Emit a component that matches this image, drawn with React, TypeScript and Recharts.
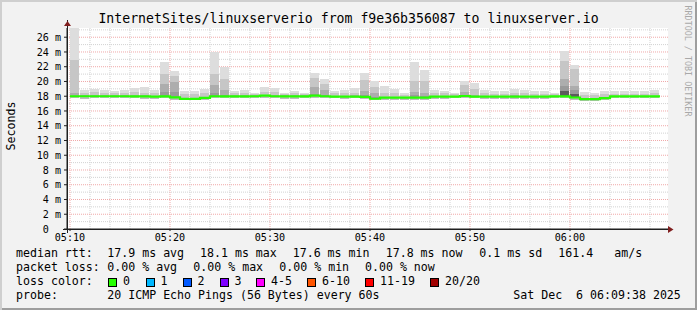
import { ComposedChart, Bar, Line, XAxis, YAxis, CartesianGrid } from 'recharts';

const FONT = '"DejaVu Sans Mono", monospace';

// one smoke bar per minute, 05:10 .. 06:08 (ms)
const rttLow = [
  17.75, 17.6, 17.75, 17.75, 17.75, 17.7, 17.7, 17.6, 17.6, 17.7,
  17.55, 17.45, 17.45, 17.55, 17.7, 17.7, 17.7, 17.7, 17.75, 17.75,
  17.7, 17.6, 17.6, 17.75, 17.8, 17.75, 17.7, 17.65, 17.7, 17.6,
  17.45, 17.55, 17.55, 17.55, 17.55, 17.55, 17.65, 17.65, 17.7, 17.75,
  17.7, 17.65, 17.65, 17.65, 17.65, 17.65, 17.6, 17.6, 17.7, 17.8,
  17.5, 17.4, 17.4, 17.5, 17.7, 17.7, 17.7, 17.7, 17.7,
];
const rttMedian = [
  18.0, 18.0, 18.0, 18.0, 18.0, 18.0, 17.98, 17.98, 17.95, 17.98,
  17.85, 17.63, 17.63, 17.78, 18.0, 17.98, 17.98, 17.98, 18.0, 18.08,
  18.0, 17.98, 17.98, 17.98, 18.08, 18.0, 17.95, 17.95, 17.95, 17.9,
  17.66, 17.8, 17.8, 17.8, 17.8, 17.8, 17.95, 17.95, 17.95, 18.03,
  17.95, 17.95, 17.95, 17.95, 17.95, 17.95, 17.95, 17.95, 17.98, 17.98,
  17.83, 17.6, 17.6, 17.75, 17.98, 17.98, 17.98, 17.98, 17.98,
];
const smokeCore = [
  18.0, 18.0, 18.0, 18.0, 18.0, 18.0, 17.98, 17.98, 17.95, 17.98,
  17.85, 17.63, 17.63, 17.78, 18.0, 17.98, 17.98, 17.98, 18.0, 18.08,
  18.0, 17.98, 17.98, 17.98, 18.08, 18.0, 17.95, 17.95, 17.95, 17.9,
  17.66, 17.8, 17.8, 17.8, 17.8, 17.8, 17.95, 17.95, 17.95, 18.03,
  17.95, 17.95, 17.95, 17.95, 17.95, 17.95, 17.95, 17.95, 17.98, 18.7,
  18.3, 17.6, 17.6, 17.75, 17.98, 17.98, 17.98, 17.98, 17.98,
];
const smokeDark = [
  18.0, 18.0, 18.0, 18.0, 18.0, 18.0, 17.98, 17.98, 17.95, 18.6,
  18.6, 17.63, 17.63, 17.78, 18.4, 18.2, 17.98, 17.98, 18.0, 18.08,
  18.0, 17.98, 17.98, 17.98, 18.3, 18.2, 17.95, 17.95, 17.95, 18.1,
  17.9, 17.8, 17.8, 17.8, 18.1, 18.0, 17.95, 17.95, 17.95, 18.2,
  17.95, 17.95, 17.95, 17.95, 17.95, 17.95, 17.95, 17.95, 17.98, 19.4,
  18.8, 17.6, 17.6, 17.75, 17.98, 17.98, 17.98, 17.98, 17.98,
];
const smokeMid = [
  18.4, 18.1, 18.1, 18.1, 18.1, 18.1, 18.1, 18.1, 18.05, 19.6,
  19.9, 17.75, 17.75, 17.9, 19.5, 18.8, 18.1, 18.1, 18.1, 18.2,
  18.15, 18.1, 18.1, 18.1, 19.2, 18.9, 18.05, 18.05, 18.1, 18.7,
  18.4, 17.9, 17.9, 17.9, 18.6, 18.5, 18.05, 18.05, 18.05, 18.6,
  18.2, 18.05, 18.05, 18.05, 18.1, 18.05, 18.05, 18.05, 18.05, 20.3,
  19.4, 17.7, 17.7, 17.85, 18.05, 18.05, 18.05, 18.05, 18.05,
];
const smokeBody = [
  22.9, 18.5, 18.55, 18.5, 18.4, 18.5, 18.6, 18.5, 18.4, 21.0,
  20.8, 18.3, 18.3, 18.5, 21.0, 20.3, 18.4, 18.5, 18.3, 18.6,
  18.6, 18.3, 18.4, 18.3, 20.5, 19.6, 18.4, 18.5, 18.5, 20.2,
  19.3, 18.5, 18.4, 18.2, 20.1, 20.0, 18.4, 18.4, 18.3, 19.5,
  19.0, 18.4, 18.35, 18.35, 18.5, 18.4, 18.3, 18.3, 18.25, 22.8,
  21.7, 18.2, 18.2, 18.3, 18.3, 18.3, 18.3, 18.3, 18.4,
];
const rttHigh = [
  27.2, 18.8, 19.0, 18.9, 18.7, 18.9, 19.1, 19.2, 18.9, 22.6,
  21.4, 18.7, 18.7, 19.0, 24.0, 22.0, 18.7, 18.8, 18.5, 19.2,
  19.1, 18.5, 18.7, 18.5, 21.1, 20.3, 18.7, 18.9, 19.1, 21.1,
  20.05, 19.35, 19.0, 18.5, 22.65, 21.6, 18.9, 18.7, 18.5, 20.05,
  19.8, 18.9, 18.7, 18.7, 19.0, 18.9, 18.7, 18.7, 18.5, 24.1,
  22.25, 18.6, 18.5, 18.7, 18.7, 18.7, 18.7, 18.7, 18.9,
];

const timeTicks = [0, 10, 20, 30, 40, 50];
const timeLabels = ['05:10', '05:20', '05:30', '05:40', '05:50', '06:00'];
const minorTimes = [2, 4, 6, 8, 12, 14, 16, 18, 22, 24, 26, 28, 32, 34, 36, 38, 42, 44, 46, 48, 52, 54, 56, 58];
const rttTicks = [0, 2, 4, 6, 8, 10, 12, 14, 16, 18, 20, 22, 24, 26];
const minorRtt = [1, 3, 5, 7, 9, 11, 13, 15, 17, 19, 21, 23, 25, 27];

const lossLabels = ['0', '1', '2', '3', '4-5', '6-10', '11-19', '20/20'];
const lossColors = ['#26ff00', '#00b8ff', '#0059ff', '#7e00ff', '#ff00fe', '#ff5500', '#ff0000', '#a10000'];
const lossBoxX = [108, 145.5, 182.5, 219.5, 256, 307, 365, 430];

const TIME_DOMAIN: [number, number] = [-0.3, 59.8];

const rows = rttMedian.map((m, i) => ({
  t: i + 0.5,
  base: rttLow[i],
  below: m - rttLow[i],
  core: smokeCore[i] - m,
  dark: smokeDark[i] - smokeCore[i],
  mid: smokeMid[i] - smokeDark[i],
  body: smokeBody[i] - smokeMid[i],
  top: rttHigh[i] - smokeBody[i],
}));

const medianSteps = rttMedian.flatMap((m, i) => [
  { t: i, v: m },
  { t: i + 1, v: m },
]);

function T({ x, y, children, size = 11.6 }: { x: number; y: number; children: string; size?: number }) {
  return (
    <span
      style={{
        position: 'absolute',
        left: x,
        top: y,
        fontFamily: FONT,
        fontSize: size,
        lineHeight: 1,
        whiteSpace: 'pre',
        color: '#000',
      }}
    >
      {children}
    </span>
  );
}

export default function App() {
  const tickStyle = { fill: '#000', fontSize: 10.1, fontFamily: FONT };
  const smoke = [
    ['below', '#bdbdbd'],
    ['core', '#5c5c5c'],
    ['dark', '#9a9a9a'],
    ['mid', '#adadad'],
    ['body', '#c6c6c6'],
    ['top', '#dddddd'],
  ];
  return (
    <div
      style={{
        position: 'absolute',
        left: 0,
        top: 0,
        width: 697,
        height: 310,
        background: '#f2f2f2',
        boxShadow: 'inset 2px 2px 0 #cfcfcf, inset -2px -2px 0 #9e9e9e',
        overflow: 'hidden',
      }}
    >
      <div
        style={{
          position: 'absolute',
          left: 0,
          top: 12,
          width: 697,
          textAlign: 'center',
          fontFamily: FONT,
          fontSize: 13.2,
          lineHeight: 1,
          whiteSpace: 'pre',
        }}
      >
        InternetSites/linuxserverio from f9e36b356087 to linuxserver.io
      </div>

      <div style={{ position: 'absolute', left: 0, top: 0 }}>
        <ComposedChart
          width={697}
          height={310}
          data={rows}
          margin={{ top: 28, right: 29, bottom: 61, left: 0 }}
          barCategoryGap={0}
          barGap={0}
        >
          <CartesianGrid fill="#ffffff" horizontal={false} vertical={false} />
          <XAxis
            dataKey="t"
            type="number"
            domain={TIME_DOMAIN}
            ticks={timeTicks}
            tickFormatter={(v) => timeLabels[timeTicks.indexOf(v)] ?? ''}
            allowDataOverflow
            interval={0}
            height={20}
            tickSize={2}
            tickMargin={3}
            tick={tickStyle}
            axisLine={{ stroke: '#1f1f1f' }}
            tickLine={{ stroke: '#1f1f1f' }}
          />
          <XAxis
            xAxisId="median"
            dataKey="t"
            type="number"
            domain={TIME_DOMAIN}
            allowDataOverflow
            hide
          />
          <YAxis
            type="number"
            domain={[0, 27.25]}
            ticks={rttTicks}
            tickFormatter={(v) => (v === 0 ? '0\u00a0\u00a0' : `${v} m`)}
            allowDataOverflow
            interval={0}
            width={67}
            tickSize={3}
            tickMargin={3}
            tick={tickStyle}
            axisLine={{ stroke: '#1f1f1f' }}
            tickLine={{ stroke: '#1f1f1f' }}
          />
          <Bar dataKey="base" stackId="s" fill="transparent" barSize={10} isAnimationActive={false} />
          {smoke.map(([key, color]) => (
            <Bar
              key={key}
              dataKey={key}
              stackId="s"
              fill={color}
              barSize={10}
              isAnimationActive={false}
              shapeRendering="crispEdges"
            />
          ))}
          <Line
            xAxisId="median"
            data={medianSteps}
            dataKey="v"
            type="linear"
            stroke="#26ff00"
            strokeWidth={2.2}
            dot={false}
            isAnimationActive={false}
          />
          <CartesianGrid
            horizontalValues={minorRtt}
            verticalValues={minorTimes}
            stroke="#d2d2d2"
            strokeDasharray="1 1"
          />
          <CartesianGrid
            horizontalValues={rttTicks.slice(1)}
            verticalValues={timeTicks}
            stroke="#f0a8a8"
            strokeDasharray="1 1"
          />
        </ComposedChart>
      </div>

      <svg width={697} height={310} style={{ position: 'absolute', left: 0, top: 0, pointerEvents: 'none' }}>
        <line x1={67.5} y1={20} x2={67.5} y2={233} stroke="#1f1f1f" />
        <line x1={63} y1={229.5} x2={670} y2={229.5} stroke="#1f1f1f" />
        <polygon points="64,26 71,26 67.5,21" fill="#801f1f" />
        <polygon points="668,226 668,233 673.5,229.5" fill="#801f1f" />
      </svg>

      <span
        style={{
          position: 'absolute',
          left: 11 - 40,
          top: 125.5 - 7,
          width: 80,
          height: 14,
          lineHeight: '14px',
          textAlign: 'center',
          fontFamily: FONT,
          fontSize: 11.6,
          transform: 'rotate(-90deg)',
        }}
      >
        Seconds
      </span>
      <span
        style={{
          position: 'absolute',
          left: 688 - 60,
          top: 61 - 5,
          width: 120,
          height: 10,
          lineHeight: '10px',
          textAlign: 'center',
          fontFamily: FONT,
          fontSize: 8.4,
          color: '#a9a9a9',
          whiteSpace: 'pre',
          transform: 'rotate(90deg)',
        }}
      >
        RRDTOOL / TOBI OETIKER
      </span>

      <T x={16} y={248}>median rtt:</T>
      <T x={107.3} y={248}>17.9 ms avg</T>
      <T x={200} y={248}>18.1 ms max</T>
      <T x={292.7} y={248}>17.6 ms min</T>
      <T x={385.7} y={248}>17.8 ms now</T>
      <T x={479.3} y={248}>0.1 ms sd</T>
      <T x={558.3} y={248}>161.4</T>
      <T x={614.3} y={248}>am/s</T>

      <T x={16} y={262}>packet loss:</T>
      <T x={107.3} y={262}>0.00 % avg</T>
      <T x={193.3} y={262}>0.00 % max</T>
      <T x={279.3} y={262}>0.00 % min</T>
      <T x={365} y={262}>0.00 % now</T>

      <T x={16} y={276}>loss color:</T>
      {lossLabels.map((l, i) => (
        <span key={l}>
          <span
            style={{
              position: 'absolute',
              left: lossBoxX[i],
              top: 278,
              width: 9,
              height: 9,
              boxSizing: 'border-box',
              border: '1px solid #000',
              background: lossColors[i],
            }}
          />
          <T x={lossBoxX[i] + 15} y={276}>{l}</T>
        </span>
      ))}

      <T x={16} y={290}>probe:</T>
      <T x={107.3} y={290}>20 ICMP Echo Pings (56 Bytes) every 60s</T>
      <T x={513.3} y={290}>Sat Dec  6 06:09:38 2025</T>
    </div>
  );
}
